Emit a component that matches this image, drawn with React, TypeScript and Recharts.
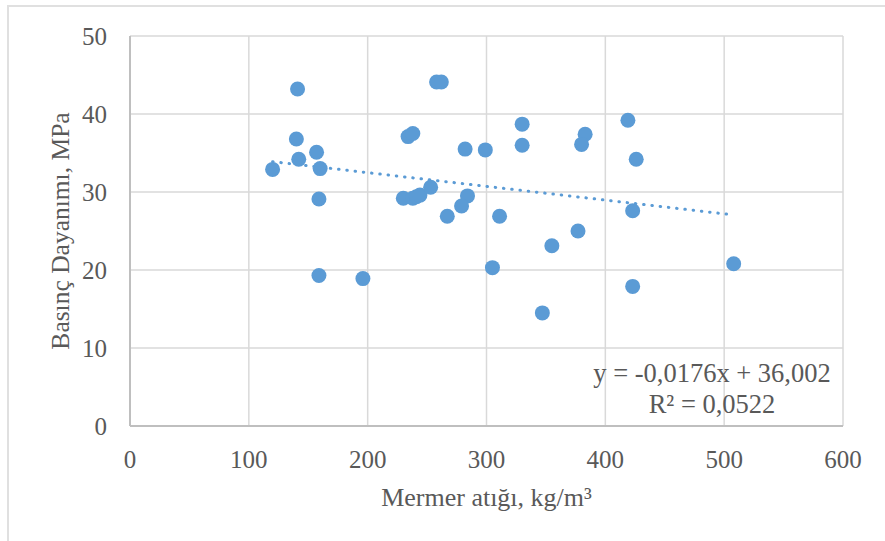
import {
  ScatterChart,
  Scatter,
  XAxis,
  YAxis,
  CartesianGrid,
} from "recharts";

// Mermer atığı miktarı (kg/m³) ve basınç dayanımı (MPa)
const mermerAtigi = [
  120, 141, 140, 157, 142, 160, 159, 159, 196, 258, 262, 234, 238, 282, 299,
  330, 330, 383, 380, 419, 426, 230, 238, 241, 244, 253, 284, 279, 267, 311,
  423, 377, 355, 305, 423, 347, 508,
];
const basincDayanimi = [
  32.9, 43.2, 36.8, 35.1, 34.2, 33.0, 29.1, 19.3, 18.9, 44.1, 44.1, 37.1, 37.5,
  35.5, 35.4, 38.7, 36.0, 37.4, 36.1, 39.2, 34.2, 29.2, 29.2, 29.4, 29.6, 30.6,
  29.5, 28.2, 26.9, 26.9, 27.6, 25.0, 23.1, 20.3, 17.9, 14.5, 20.8,
];

const xTicks = [0, 100, 200, 300, 400, 500, 600];
const yTicks = [0, 10, 20, 30, 40, 50];

// doğrusal eğilim çizgisi: y = -0,0176x + 36,002
const egim = -0.0176;
const kesisim = 36.002;

const points = mermerAtigi.map((x, i) => ({ x, y: basincDayanimi[i] }));
const xMin = Math.min(...mermerAtigi);
const xMax = Math.max(...mermerAtigi);
const trend = [
  { x: xMin, y: egim * xMin + kesisim },
  { x: xMax, y: egim * xMax + kesisim },
];

const BLUE = "#5B9BD5";
const TEXT = "#595959";
const FONT = "'Liberation Serif', 'Times New Roman', serif";

const Dot = (props: any) => (
  <circle cx={props.cx} cy={props.cy} r={7.5} fill={BLUE} />
);

export default function App() {
  return (
    <div
      style={{
        position: "fixed",
        top: 0,
        left: 0,
        width: 885,
        height: 541,
        overflow: "hidden",
        background: "#fff",
      }}
    >
      <div
        style={{
          position: "absolute",
          left: 7,
          top: 5,
          width: 900,
          height: 600,
          border: "2px solid #e0e0e0",
        }}
      />
      <div style={{ position: "absolute", left: 0, top: 0 }}>
        <ScatterChart
          width={885}
          height={541}
          margin={{ top: 36, right: 42, bottom: 25, left: 0 }}
        >
          <CartesianGrid stroke="#d9d9d9" strokeWidth={1.5} />
          <XAxis
            type="number"
            dataKey="x"
            domain={[0, 600]}
            ticks={xTicks}
            height={90}
            axisLine={{ stroke: "#bfbfbf", strokeWidth: 2 }}
            tickLine={false}
            tickSize={0}
            tickMargin={24}
            tick={{ fill: TEXT, fontSize: 25, fontFamily: FONT }}
            label={{
              value: "Mermer atığı, kg/m³",
              position: "insideBottom",
              offset: 10,
              fill: TEXT,
              fontSize: 26,
              fontFamily: FONT,
            }}
          />
          <YAxis
            type="number"
            dataKey="y"
            domain={[0, 50]}
            ticks={yTicks}
            width={130}
            axisLine={{ stroke: "#bfbfbf", strokeWidth: 2 }}
            tickLine={false}
            tickSize={0}
            tickMargin={23}
            tick={{ fill: TEXT, fontSize: 25, fontFamily: FONT }}
            label={{
              value: "Basınç Dayanımı, MPa",
              angle: -90,
              position: "insideLeft",
              offset: 60,
              fill: TEXT,
              fontSize: 25.5,
              fontFamily: FONT,
              style: { textAnchor: "middle" },
            }}
          />
          <Scatter
            data={trend}
            fill={BLUE}
            isAnimationActive={false}
            line={{
              stroke: BLUE,
              strokeWidth: 3,
              strokeDasharray: "0.5 7.8",
              strokeLinecap: "round",
            }}
            shape={() => <g />}
          />
          <Scatter
            data={points}
            fill={BLUE}
            isAnimationActive={false}
            shape={Dot}
          />
          <text
            x={712}
            y={382}
            textAnchor="middle"
            fill={TEXT}
            fontSize={26.5}
            fontFamily={FONT}
          >
            y = -0,0176x + 36,002
          </text>
          <text
            x={712}
            y={413}
            textAnchor="middle"
            fill={TEXT}
            fontSize={26.5}
            fontFamily={FONT}
          >
            R² = 0,0522
          </text>
        </ScatterChart>
      </div>
    </div>
  );
}
